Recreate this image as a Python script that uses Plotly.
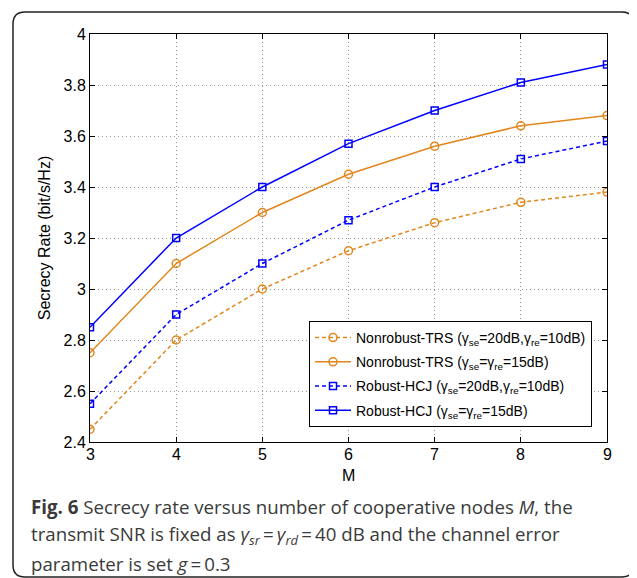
import plotly.graph_objects as go

M = [3, 4, 5, 6, 7, 8, 9]
trs_20_10 = [2.45, 2.80, 3.00, 3.15, 3.26, 3.34, 3.38]
trs_15 = [2.75, 3.10, 3.30, 3.45, 3.56, 3.64, 3.68]
hcj_20_10 = [2.55, 2.90, 3.10, 3.27, 3.40, 3.51, 3.58]
hcj_15 = [2.85, 3.20, 3.40, 3.57, 3.70, 3.81, 3.88]

names = [
    "Nonrobust-TRS (γ<sub>se</sub>=20dB,γ<sub>re</sub>=10dB)",
    "Nonrobust-TRS (γ<sub>se</sub>=γ<sub>re</sub>=15dB)",
    "Robust-HCJ (γ<sub>se</sub>=20dB,γ<sub>re</sub>=10dB)",
    "Robust-HCJ (γ<sub>se</sub>=γ<sub>re</sub>=15dB)",
]
yticks = [2.4, 2.6, 2.8, 3.0, 3.2, 3.4, 3.6, 3.8, 4.0]
ytick_text = ["2.4", "2.6", "2.8", "3", "3.2", "3.4", "3.6", "3.8", "4"]
xtick_text = ["3", "4", "5", "6", "7", "8", "9"]

caption_lines = [
    "<b>Fig. 6</b> Secrecy rate versus number of cooperative nodes <i>M</i>, the",
    "transmit SNR is fixed as <i>γ<sub>sr</sub></i>\u2009=\u2009<i>γ<sub>rd</sub></i>\u2009=\u200940 dB and the channel error",
    "parameter is set <i>g</i>\u2009=\u20090.3",
]

ORANGE = "#E2861C"
BLUE = "#0000FF"

fig = go.Figure()
series = [
    (trs_20_10, ORANGE, "4px,3px", "circle-open", 8),
    (trs_15, ORANGE, "solid", "circle-open", 8),
    (hcj_20_10, BLUE, "4px,3px", "square-open", 7),
    (hcj_15, BLUE, "solid", "square-open", 7),
]
for i, ((ys, col, dash, sym, ms), nm) in enumerate(zip(series, names)):
    fig.add_trace(go.Scatter(
        x=M, y=ys, name=nm, mode="lines+markers", legendgroup=f"g{i}",
        line=dict(color=col, width=1.5, dash=dash),
        marker=dict(symbol=sym, size=ms, color=col, line=dict(width=1.5, color=col)),
    ))

# page body adds an 8px offset; positions below are in screenshot pixels
OFF = 8
W, H = 637, 578
L, R, T, B = 90, 607, 34, 442
def px(x):
    return (x - L) / (R - L)
def py(y):
    return (B - y) / (B - T)

# rounded frame
x0, x1, y0, y1, r = 13, 634, 12, 577, 12
path = (f"M {px(x0+r)},{py(y0)} L {px(x1-r)},{py(y0)} "
        f"Q {px(x1)},{py(y0)} {px(x1)},{py(y0+r)} "
        f"L {px(x1)},{py(y1-r)} Q {px(x1)},{py(y1)} {px(x1-r)},{py(y1)} "
        f"L {px(x0+r)},{py(y1)} Q {px(x0)},{py(y1)} {px(x0)},{py(y1-r)} "
        f"L {px(x0)},{py(y0+r)} Q {px(x0)},{py(y0)} {px(x0+r)},{py(y0)} Z")
fig.add_shape(type="path", path=path, xref="paper", yref="paper",
              line=dict(color="#222222", width=1.5), layer="below")

for k, line in enumerate(caption_lines):
    fig.add_annotation(text=line, xref="paper", yref="paper", x=px(29), y=py(507 + 28 * k),
                       xanchor="left", yanchor="middle", showarrow=False, align="left",
                       font=dict(family="Open Sans", size=18.7, color="#3a3a3a"))

# x tick labels and title
lab_font = dict(family="Liberation Sans", size=16, color="black")
for m, t in zip(M, xtick_text):
    fig.add_annotation(text=t, x=m, xref="x", yref="paper", y=py(455), yanchor="middle",
                       showarrow=False, font=lab_font)
fig.add_annotation(text="M", x=6, xref="x", yref="paper", y=py(475), yanchor="middle",
                   showarrow=False, font=lab_font)

axis_common = dict(showline=True, linecolor="black", linewidth=1, mirror="ticks",
                   ticks="inside", ticklen=5, tickcolor="black",
                   showgrid=True, gridcolor="#999999", griddash="1px,3px", gridwidth=1,
                   zeroline=False, tickfont=lab_font)

fig.update_xaxes(range=[3, 9], tickvals=M, showticklabels=False, **axis_common)
fig.update_yaxes(range=[2.4, 4.0], tickvals=yticks, ticktext=ytick_text,
                 title=dict(text="Secrecy Rate (bit/s/Hz)", standoff=8, font=lab_font),
                 **axis_common)

fig.update_layout(
    width=W, height=H,
    margin=dict(l=L - OFF, r=W - (R - OFF), t=T - OFF, b=H - (B - OFF)),
    plot_bgcolor="white", paper_bgcolor="white",
    legend=dict(x=px(592), y=py(427), xanchor="right", yanchor="bottom",
                bgcolor="white", bordercolor="black", borderwidth=1,
                font=dict(family="Liberation Sans", size=14, color="black"),
                tracegroupgap=3, itemwidth=36),
    showlegend=True,
)

fig.write_html("out.html")
